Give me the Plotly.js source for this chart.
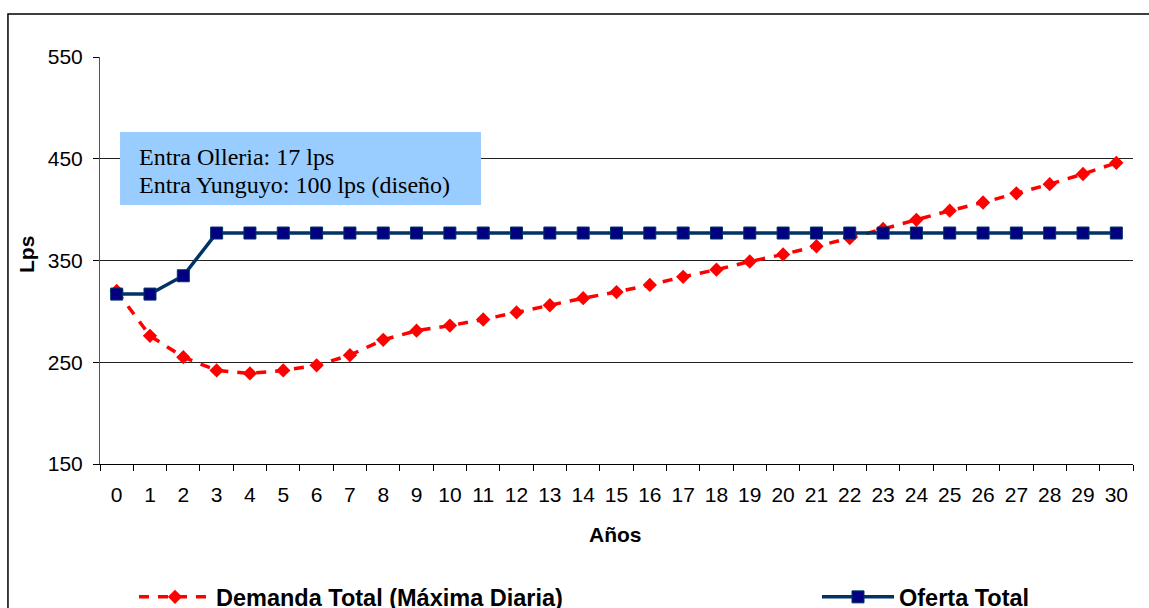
<!DOCTYPE html>
<html>
<head>
<meta charset="utf-8">
<script src="https://cdn.plot.ly/plotly-3.0.1.min.js"></script>
<style>html,body{margin:0;padding:0;background:#fff;}#chart{width:1149px;height:608px;}</style>
</head>
<body>
<div id="chart"></div>
<script>
var years = ['0','1','2','3','4','5','6','7','8','9','10','11','12','13','14','15','16','17','18','19','20','21','22','23','24','25','26','27','28','29','30'];
var demanda = [320,276,255,242,239,242,247,257,272,281,286,292,299,306,313,319,326,334,341,349,356,364,372,381,390,399,407,416,425,435,446];
var oferta = [317,317,335,377,377,377,377,377,377,377,377,377,377,377,377,377,377,377,377,377,377,377,377,377,377,377,377,377,377,377,377];
var yTicks = [150,250,350,450,550];
var noteLines = ['Entra Olleria: 17 lps', 'Entra Yunguyo: 100 lps (diseño)'];
var nameDemanda = 'Demanda Total (Máxima Diaria)';
var nameOferta = 'Oferta Total';

var legendFont = {size: 23.5, family: 'Arial, Liberation Sans, sans-serif', weight: 'bold', color: '#000'};

var traces = [
  {
    x: years, y: demanda, name: nameDemanda, type: 'scatter', mode: 'lines+markers', legend: 'legend',
    line: {color: '#FF0000', width: 3.5, dash: '10px,9px'},
    marker: {symbol: 'diamond', size: 11, color: '#FF0000'}
  },
  {
    x: years, y: oferta, name: nameOferta, type: 'scatter', mode: 'lines+markers', legend: 'legend2',
    line: {color: '#003366', width: 3.5},
    marker: {symbol: 'square', size: 12, color: '#000080', line: {color: '#003366', width: 1}}
  }
];

var layout = {
  width: 1149, height: 608,
  margin: {l: 100, r: 16, t: 57, b: 144, autoexpand: false},
  paper_bgcolor: '#fff', plot_bgcolor: '#fff',
  font: {family: 'Arial, Liberation Sans, sans-serif', color: '#000'},
  showlegend: true,
  legend: {
    orientation: 'h', x: 0.0329, xanchor: 'left', y: -0.327, yanchor: 'middle', itemwidth: 72,
    font: legendFont, bgcolor: 'rgba(0,0,0,0)'
  },
  legend2: {
    orientation: 'h', x: 0.6941, xanchor: 'left', y: -0.327, yanchor: 'middle', itemwidth: 72,
    font: legendFont, bgcolor: 'rgba(0,0,0,0)'
  },
  xaxis: {
    type: 'category', range: [-0.5, 30.5], tickson: 'boundaries', ticks: 'outside', ticklen: 6, tickcolor: '#000',
    showline: true, linecolor: '#000', linewidth: 1, showgrid: false, zeroline: false,
    tickangle: 0, tickfont: {size: 21}, ticklabelstandoff: 12, fixedrange: true, automargin: false
  },
  yaxis: {
    range: [150, 550], tickvals: yTicks, ticks: 'outside', ticklen: 6, tickcolor: '#000',
    showline: true, linecolor: '#555', linewidth: 1, showgrid: true, gridcolor: '#222', gridwidth: 1,
    zeroline: false, tickfont: {size: 21}, ticklabelstandoff: 6, fixedrange: true, automargin: false
  },
  shapes: [
    {type: 'rect', xref: 'paper', yref: 'paper', x0: -0.0891, x1: 1.2, y0: -0.6, y1: 1.1057,
     line: {color: '#000', width: 1.5}, fillcolor: 'rgba(0,0,0,0)', layer: 'below'},
    {type: 'rect', xref: 'paper', yref: 'paper', x0: 0.0194, x1: 0.3688, y0: 0.6364, y1: 0.8157,
     line: {width: 0}, fillcolor: '#99CCFF', layer: 'above'}
  ],
  annotations: [
    {text: noteLines[0], xref: 'paper', yref: 'paper', x: 0.0358, y: 0.7543, xanchor: 'left', yanchor: 'middle',
     showarrow: false, font: {family: 'Liberation Serif, Times New Roman, serif', size: 24, color: '#000'}},
    {text: noteLines[1], xref: 'paper', yref: 'paper', x: 0.0358, y: 0.6855, xanchor: 'left', yanchor: 'middle',
     showarrow: false, font: {family: 'Liberation Serif, Times New Roman, serif', size: 24, color: '#000'}},
    {text: '<b>Años</b>', xref: 'paper', yref: 'paper', x: 0.4995, y: -0.172, xanchor: 'center', yanchor: 'middle',
     showarrow: false, font: {size: 21}},
    {text: '<b>Lps</b>', xref: 'paper', yref: 'paper', x: -0.0707, y: 0.516, xanchor: 'center', yanchor: 'middle',
     textangle: -90, showarrow: false, font: {size: 21}}
  ]
};

Plotly.newPlot('chart', traces, layout, {displayModeBar: false, staticPlot: true});
</script>
</body>
</html>
